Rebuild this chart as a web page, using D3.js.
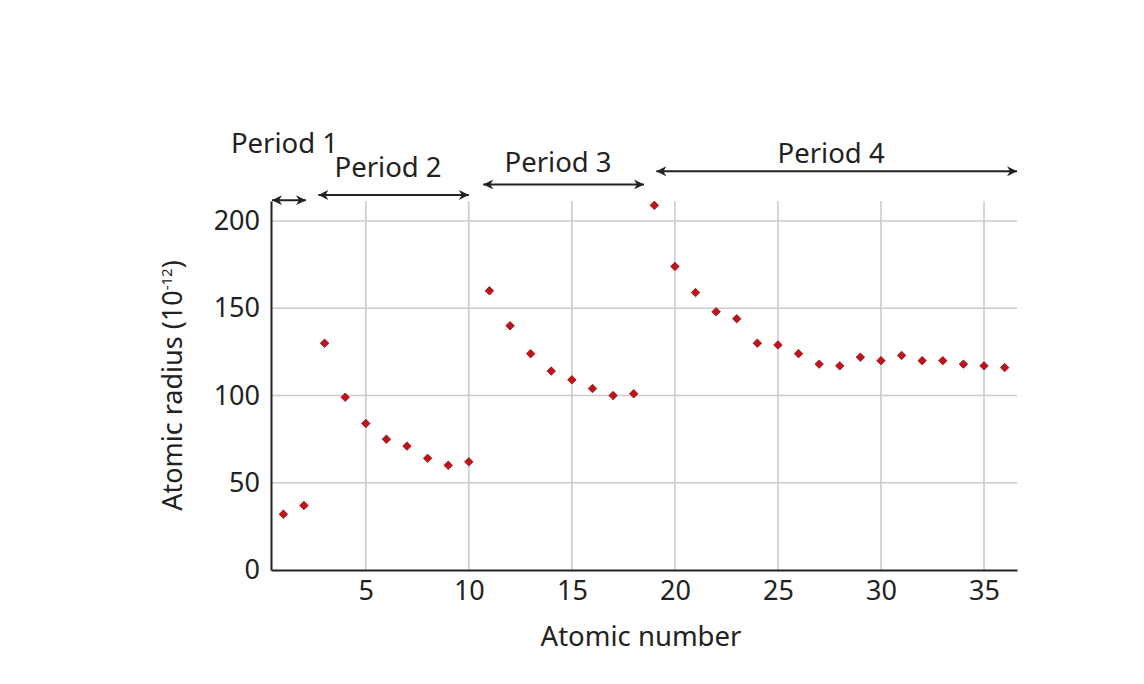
<!DOCTYPE html>
<html>
<head>
<meta charset="utf-8">
<script src="https://cdn.jsdelivr.net/npm/d3@7"></script>
<style>
  body { margin: 0; background: #fff; }
  svg text { font-family: "Noto Sans", sans-serif; fill: #222; }
</style>
</head>
<body>
<svg id="chart" width="1144" height="684"></svg>
<script>
// atomic number vs atomic radius (pm)
const atomicNumbers = d3.range(1, 37);
const radii = [32, 37, 130, 99, 84, 75, 71, 64, 60, 62,
               160, 140, 124, 114, 109, 104, 100, 101,
               209, 174, 159, 148, 144, 130, 129, 124, 118, 117, 122, 120, 123, 120, 120, 118, 117, 116];

const xTicks = [5, 10, 15, 20, 25, 30, 35];
const yTicks = [0, 50, 100, 150, 200];

// period brackets, in atomic number units
const periodNames = ["Period 1", "Period 2", "Period 3", "Period 4"];
const periodStart = [0.45, 2.7, 10.7, 19.1];
const periodEnd   = [2.1, 10.0, 18.5, 36.6];
const periodArrowY = [212, 215, 221, 228.5];
const periodLabelY = [239, 225, 228.3, 233.2];
const periodLabelX = [1.05, 6.08, 14.33, 27.58];

const svg = d3.select("#chart");
const margin = {left: 271, right: 1144 - 1017, top: 201, bottom: 684 - 570};
const width = 1144 - margin.left - margin.right;
const height = 684 - margin.top - margin.bottom;

const x = d3.scaleLinear().domain([0.4, 36.6]).range([0, width]);
const y = d3.scaleLinear().domain([0, 211.5]).range([height, 0]);

const g = svg.append("g").attr("transform", `translate(${margin.left},${margin.top})`);

// grid
g.append("g").selectAll("line.vg")
  .data(xTicks).enter().append("line")
  .attr("x1", d => x(d)).attr("x2", d => x(d))
  .attr("y1", 0).attr("y2", height)
  .attr("stroke", "#c9cdd2").attr("stroke-width", 1.6);
g.append("g").selectAll("line.hg")
  .data(yTicks.filter(d => d > 0)).enter().append("line")
  .attr("x1", 0).attr("x2", width)
  .attr("y1", d => y(d)).attr("y2", d => y(d))
  .attr("stroke", "#c9cdd2").attr("stroke-width", 1.6);

// axes
const xAxis = g.append("g").attr("transform", `translate(0,${height})`)
  .call(d3.axisBottom(x).tickValues(xTicks).tickSize(0).tickPadding(11));
const yAxis = g.append("g")
  .call(d3.axisLeft(y).tickValues(yTicks).tickSize(0).tickPadding(11));
[xAxis, yAxis].forEach(a => {
  a.select(".domain").attr("stroke", "#222").attr("stroke-width", 2);
  a.selectAll("text").style("font-family", '"Noto Sans", sans-serif')
    .style("font-size", "27px").attr("fill", "#222");
});

// axis titles
svg.append("text")
  .attr("x", margin.left + width / 2 - 3).attr("y", 646)
  .attr("text-anchor", "middle").style("font-size", "27.5px")
  .text("Atomic number");
const yt = svg.append("text")
  .attr("transform", `translate(182,${margin.top + height / 2}) rotate(-90)`)
  .attr("text-anchor", "middle").style("font-size", "27px");
yt.append("tspan").text("Atomic radius (10");
yt.append("tspan").attr("baseline-shift", "super").style("font-size", "15px").text("-12");
yt.append("tspan").text(")");

// arrowheads
const defs = svg.append("defs");
["start", "end"].forEach(k => {
  defs.append("marker")
    .attr("id", "arr-" + k)
    .attr("viewBox", "0 0 10 10").attr("refX", k === "end" ? 10 : 0).attr("refY", 5)
    .attr("markerWidth", 12).attr("markerHeight", 10).attr("markerUnits", "userSpaceOnUse")
    .attr("orient", "auto")
    .append("path")
    .attr("d", k === "end" ? "M0,0 L10,5 L0,10 L3,5 Z" : "M10,0 L0,5 L10,10 L7,5 Z")
    .attr("fill", "#222");
});

// period brackets
const periods = periodNames.map((name, i) => ({
  name, s: periodStart[i], e: periodEnd[i], ay: periodArrowY[i], lx: periodLabelX[i], ly: periodLabelY[i]
}));
g.selectAll("line.period").data(periods).enter().append("line")
  .attr("x1", d => x(d.s)).attr("x2", d => x(d.e))
  .attr("y1", d => y(d.ay)).attr("y2", d => y(d.ay))
  .attr("stroke", "#222").attr("stroke-width", 2)
  .attr("marker-start", "url(#arr-start)").attr("marker-end", "url(#arr-end)");
g.selectAll("text.period").data(periods).enter().append("text")
  .attr("x", d => x(d.lx)).attr("y", d => y(d.ly))
  .attr("text-anchor", "middle").style("font-size", "27.5px")
  .text(d => d.name);

// points
g.selectAll("path.pt").data(atomicNumbers).enter().append("path")
  .attr("d", d3.symbol(d3.symbolDiamond2, 46))
  .attr("transform", (d, i) => `translate(${x(d)},${y(radii[i])})`)
  .attr("fill", "#c1141a").attr("stroke", "#8a0f10").attr("stroke-width", 0.8);
</script>
</body>
</html>
